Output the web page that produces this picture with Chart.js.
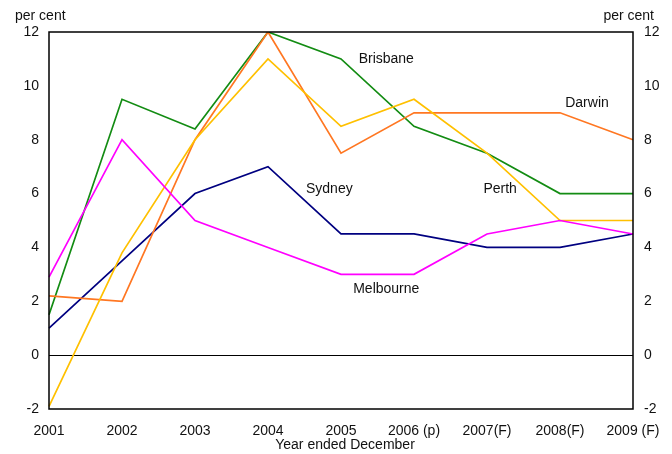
<!DOCTYPE html>
<html>
<head>
<meta charset="utf-8">
<script src="https://cdn.jsdelivr.net/npm/chart.js@4"></script>
<style>
  html, body { margin: 0; padding: 0; background: #fff; }
  #wrap { width: 672px; height: 454px; }
</style>
</head>
<body>
<div id="wrap"><canvas id="c" width="672" height="454"></canvas></div>
<script>
const years = ['2001', '2002', '2003', '2004', '2005', '2006 (p)', '2007(F)', '2008(F)', '2009 (F)'];
const sydney    = [1.0, 3.5, 6.0, 7.0, 4.5, 4.5, 4.0, 4.0, 4.5];
const melbourne = [2.9, 8.0, 5.0, 4.0, 3.0, 3.0, 4.5, 5.0, 4.5];
const brisbane  = [1.5, 9.5, 8.4, 12.0, 11.0, 8.5, 7.5, 6.0, 6.0];
const darwin    = [2.2, 2.0, 8.0, 12.0, 7.5, 9.0, 9.0, 9.0, 8.0];
const perth     = [-1.9, 3.8, 8.0, 11.0, 8.5, 9.5, 7.5, 5.0, 5.0];
const yTicks = [-2, 0, 2, 4, 6, 8, 10, 12];

const FONT = 'Liberation Sans, Arial, sans-serif';
const TXT = '#111';

// label anchors in data coordinates (category index, value)
const seriesLabels = [
  { text: 'Sydney',    x: 3.84, y: 6.16 },
  { text: 'Brisbane',  x: 4.62, y: 11.0 },
  { text: 'Darwin',    x: 7.37, y: 9.36 },
  { text: 'Perth',     x: 6.18, y: 6.16 },
  { text: 'Melbourne', x: 4.62, y: 2.45 }
];

const decor = {
  id: 'decor',
  beforeDatasetsDraw(chart) {
    const { ctx, chartArea: a, scales } = chart;
    ctx.save();
    const y0 = Math.round(scales.y.getPixelForValue(0)) + 0.5;
    ctx.strokeStyle = '#000';
    ctx.lineWidth = 1;
    ctx.beginPath();
    ctx.moveTo(a.left, y0);
    ctx.lineTo(a.right, y0);
    ctx.stroke();
    ctx.restore();
  },
  afterDraw(chart) {
    const { ctx, chartArea: a, scales } = chart;
    ctx.save();
    ctx.strokeStyle = '#000';
    ctx.lineWidth = 1.5;
    ctx.strokeRect(a.left, a.top, a.right - a.left, a.bottom - a.top);
    ctx.fillStyle = TXT;
    ctx.font = '14px ' + FONT;
    ctx.textBaseline = 'middle';
    ctx.textAlign = 'left';
    ctx.fillText('per cent', 15, 16);
    ctx.textAlign = 'right';
    ctx.fillText('per cent', 654, 16);
    ctx.textAlign = 'center';
    seriesLabels.forEach(l => {
      ctx.fillText(l.text, scales.x.getPixelForValue(l.x), scales.y.getPixelForValue(l.y));
    });
    ctx.fillText('Year ended December', (a.left + a.right) / 2 + 4, 445);
    ctx.restore();
  }
};

const mk = (label, data, color) => ({
  label, data, borderColor: color, backgroundColor: color,
  borderWidth: 1.7, pointRadius: 0, tension: 0, fill: false
});

new Chart(document.getElementById('c'), {
  type: 'line',
  data: {
    labels: years,
    datasets: [
      mk('Melbourne', melbourne, '#ff00ff'),
      mk('Perth', perth, '#ffc000'),
      mk('Darwin', darwin, '#ff7722'),
      mk('Brisbane', brisbane, '#138c13'),
      mk('Sydney', sydney, '#000080')
    ]
  },
  options: {
    responsive: false,
    animation: false,
    devicePixelRatio: 1,
    layout: { padding: { top: 32, left: 0, right: 0, bottom: 0 } },
    plugins: { legend: { display: false }, tooltip: { enabled: false }, title: { display: false } },
    scales: {
      x: {
        type: 'category',
        offset: false,
        grid: { display: false, drawTicks: false },
        border: { display: false },
        ticks: { color: TXT, font: { family: FONT, size: 14 }, padding: 14, maxRotation: 0, autoSkip: false },
        title: { display: false },
        afterFit(s) { s.height = 45; s.paddingLeft = 0; s.paddingRight = 0; }
      },
      y: {
        position: 'left',
        min: -2, max: 12,
        grid: { display: false, drawTicks: false },
        border: { display: false },
        afterBuildTicks(s) { s.ticks = yTicks.map(v => ({ value: v })); },
        ticks: { color: TXT, font: { family: FONT, size: 14 }, padding: 10 },
        afterFit(s) { s.width = 49; }
      },
      y2: {
        position: 'right',
        min: -2, max: 12,
        grid: { display: false, drawTicks: false },
        border: { display: false },
        afterBuildTicks(s) { s.ticks = yTicks.map(v => ({ value: v })); },
        ticks: { color: TXT, font: { family: FONT, size: 14 }, padding: 11 },
        afterFit(s) { s.width = 39; }
      }
    }
  },
  plugins: [decor]
});
</script>
</body>
</html>
